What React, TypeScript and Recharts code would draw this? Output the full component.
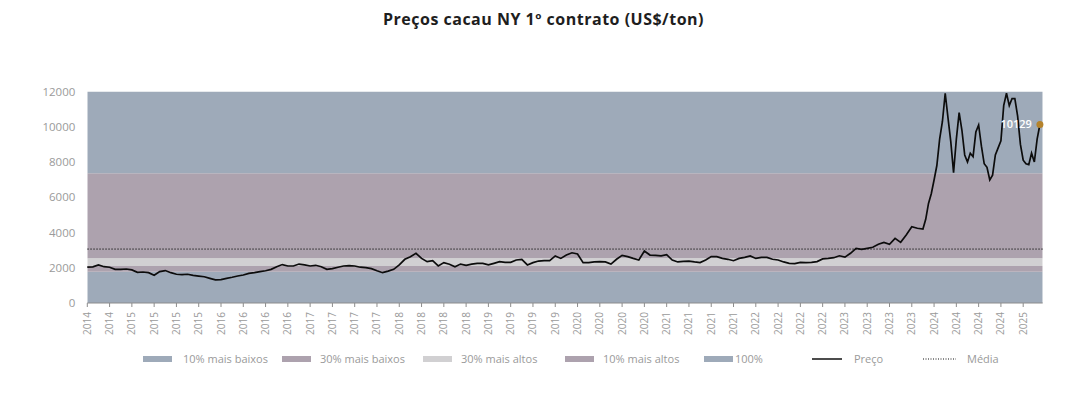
import React from 'react';
import { ComposedChart, Line, XAxis, YAxis, ReferenceLine, ReferenceArea } from 'recharts';

const chartTitle = 'Preços cacau NY 1º contrato (US$/ton)';

const yearLabels = [
  '2014', '2014',
  '2015', '2015', '2015', '2015',
  '2016', '2016', '2016', '2016',
  '2017', '2017', '2017', '2017',
  '2018', '2018', '2018', '2018',
  '2019', '2019', '2019', '2019',
  '2020', '2020', '2020', '2020',
  '2021', '2021', '2021', '2021',
  '2022', '2022', '2022', '2022',
  '2023', '2023', '2023', '2023',
  '2024', '2024', '2024', '2024',
  '2025',
];

// price sampled every quarter of a tick interval (2014 to late 2023)
const prices = [
  2030, 2050, 2160, 2060, 2030, 1910, 1910, 1930, 1880, 1740,
  1760, 1720, 1570, 1780, 1840, 1720, 1630, 1610, 1630, 1570,
  1530, 1490, 1400, 1310, 1330, 1400, 1460, 1530, 1590, 1680,
  1720, 1780, 1830, 1910, 2060, 2180, 2100, 2100, 2210, 2160,
  2100, 2140, 2060, 1910, 1950, 2030, 2100, 2120, 2100, 2030,
  2010, 1950, 1830, 1720, 1810, 1910, 2160, 2480, 2630, 2820,
  2530, 2345, 2400, 2100, 2290, 2200, 2060, 2210, 2140, 2210,
  2250, 2250, 2160, 2250, 2345, 2310, 2310, 2440, 2480, 2160,
  2290, 2380, 2400, 2400, 2670, 2530, 2720, 2850, 2780, 2290,
  2290, 2330, 2345, 2330, 2210, 2480, 2700, 2630, 2530, 2440,
  2950, 2720, 2700, 2670, 2740, 2440, 2330, 2360, 2380, 2330,
  2290, 2440, 2630, 2630, 2530, 2480, 2400, 2530, 2590, 2670,
  2530, 2590, 2590, 2480, 2440, 2330, 2250, 2230, 2300, 2290,
  2310, 2350, 2500, 2530, 2570, 2680, 2600, 2820, 3100, 3040,
  3100, 3160, 3330, 3440, 3330, 3670, 3440, 3860, 4330, 4240,
];

// price sampled every eighth of a tick interval (late 2023 to 2025)
const pricesRecent = [
  4200, 4750, 5650, 6200, 6980, 7800, 9300, 10300, 11900, 10500,
  9155, 7400, 9300, 10800, 9800, 8400, 8000, 8500, 8300, 9700,
  10100, 8900, 7900, 7700, 6980, 7250, 8400, 8800, 9200, 11200,
  11900, 11200, 11600, 11600, 10600, 9000, 8100, 7900, 7850, 8500,
  8000, 9300, 10129,
];

const lastPriceLabel = '10129';
const meanPrice = 3060;

const bandNames = ['10% mais baixos', '30% mais baixos', '30% mais altos', '10% mais altos', '100%'];
const bandEdges = [0, 1780, 2100, 2540, 7360, 12000];
const bandColors = ['#9eaab9', '#ada2ae', '#d1d0d2', '#ada2ae', '#9eaab9'];

const yTicks = [0, 2000, 4000, 6000, 8000, 10000, 12000];
const pointsPerTick = 4;

const data = [
  ...prices.map((p, i) => ({ t: i, price: p })),
  ...pricesRecent.map((p, j) => ({ t: prices.length + j / 2, price: p })),
];
const xTicks = yearLabels.map((_, k) => k * pointsPerTick);
const lastIndex = data.length - 1;
const lastT = data[lastIndex].t;

const W = 1059;
const H = 378;

const XTick = (props: any) => {
  const { x, y, payload } = props;
  const label = yearLabels[Math.round(payload.value / pointsPerTick)];
  return (
    <g transform={`translate(${x},${y})`}>
      <text
        transform="rotate(-90)"
        x={-3}
        y={0}
        dy="0.35em"
        textAnchor="end"
        fill="#9a9a9a"
        fontSize={10}
        fontFamily="'Open Sans', sans-serif"
      >
        {label}
      </text>
    </g>
  );
};

const EndDot = (props: any) => {
  const { cx, cy, index } = props;
  if (index !== lastIndex || cx == null) return <g key={`d${index}`} />;
  return (
    <g key={`d${index}`}>
      <text
        x={cx - 8}
        y={cy}
        dy="0.35em"
        textAnchor="end"
        fill="#ffffff"
        fontSize={11}
        fontWeight={600}
        fontFamily="'Open Sans', sans-serif"
      >
        {lastPriceLabel}
      </text>
      <circle cx={cx} cy={cy} r={3.5} fill="#b5832c" />
    </g>
  );
};

const legendItems = [
  { kind: 'rect', color: bandColors[0], label: bandNames[0], x: 135, tx: 175 },
  { kind: 'rect', color: bandColors[1], label: bandNames[1], x: 274, tx: 312 },
  { kind: 'rect', color: bandColors[2], label: bandNames[2], x: 415, tx: 453 },
  { kind: 'rect', color: bandColors[3], label: bandNames[3], x: 557, tx: 595 },
  { kind: 'rect', color: bandColors[4], label: bandNames[4], x: 696, tx: 727 },
  { kind: 'line', color: '#111111', label: 'Preço', x: 804, tx: 846 },
  { kind: 'dot', color: '#111111', label: 'Média', x: 915, tx: 959 },
];

const ChartLegend = () => (
  <svg width={W} height={20} style={{ position: 'absolute', left: 0, top: 341 }}>
    {legendItems.map((it) => (
      <g key={it.label}>
        {it.kind === 'rect' && <rect x={it.x} y={7} width={29} height={6} fill={it.color} />}
        {it.kind === 'line' && <line x1={it.x} x2={it.x + 30} y1={10} y2={10} stroke={it.color} strokeWidth={1.5} />}
        {it.kind === 'dot' && (
          <line x1={it.x} x2={it.x + 33} y1={10} y2={10} stroke={it.color} strokeWidth={1} strokeDasharray="1 1.5" />
        )}
        <text
          x={it.tx}
          y={10}
          dy="0.35em"
          fill="#9a9a9a"
          fontSize={11}
          fontFamily="'Open Sans', sans-serif"
        >
          {it.label}
        </text>
      </g>
    ))}
  </svg>
);

export default function App() {
  return (
    <div style={{ position: 'relative', width: W, height: H, fontFamily: "'Open Sans', sans-serif" }}>
      <div
        style={{
          position: 'absolute',
          top: 1,
          left: 6,
          width: W,
          textAlign: 'center',
          fontSize: 16,
          fontWeight: 700,
          letterSpacing: 0.5,
          color: '#1e1e1e',
          lineHeight: '20px',
        }}
      >
        {chartTitle}
      </div>
      <ComposedChart
        width={W}
        height={H}
        data={data}
        margin={{ top: 83.5, right: 24.3, left: 0, bottom: 43 }}
      >
        {bandNames.map((name, k) => (
          <ReferenceArea
            key={name}
            y1={bandEdges[k]}
            y2={bandEdges[k + 1]}
            fill={bandColors[k]}
            fillOpacity={1}
            stroke="none"
            ifOverflow="hidden"
          />
        ))}
        <XAxis
          dataKey="t"
          type="number"
          domain={[0, lastT + 0.5]}
          ticks={xTicks}
          interval={0}
          height={40}
          tick={<XTick />}
          tickSize={4}
          axisLine={{ stroke: '#8c8c8c', strokeWidth: 1 }}
          tickLine={{ stroke: '#8c8c8c' }}
        />
        <YAxis
          type="number"
          domain={[0, 12000]}
          ticks={yTicks}
          width={79.3}
          axisLine={false}
          tickLine={false}
          tickMargin={6}
          allowDataOverflow
          tick={{ fill: '#9a9a9a', fontSize: 11.5, fontFamily: "'Open Sans', sans-serif" }}
        />
        <ReferenceLine y={meanPrice} stroke="#222222" strokeWidth={1} strokeDasharray="1.5 1.5" />
        <Line
          type="linear"
          dataKey="price"
          name="Preço"
          stroke="#0c0c0c"
          strokeWidth={1.7}
          dot={<EndDot />}
          activeDot={false}
          isAnimationActive={false}
        />
      </ComposedChart>
      <ChartLegend />
    </div>
  );
}
